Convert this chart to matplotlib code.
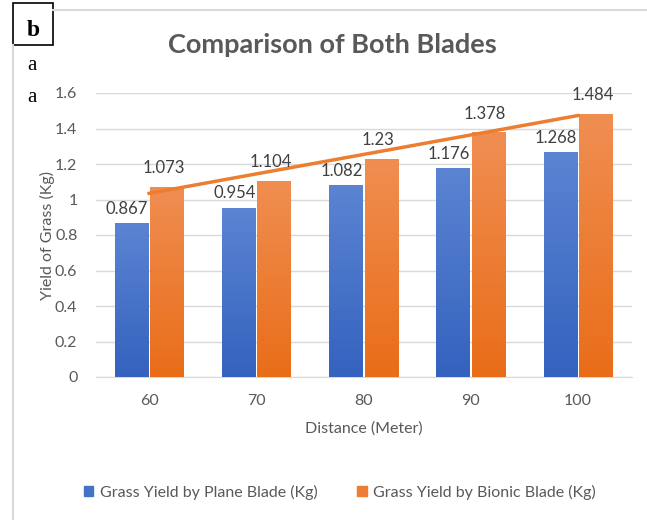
import matplotlib.pyplot as plt
import numpy as np
from matplotlib.lines import Line2D
from matplotlib.patches import Rectangle
from matplotlib.colors import LinearSegmentedColormap

distances = ["60", "70", "80", "90", "100"]
plane_yield = [0.867, 0.954, 1.082, 1.176, 1.268]
bionic_yield = [1.073, 1.104, 1.23, 1.378, 1.484]
y_ticks = [0, 0.2, 0.4, 0.6, 0.8, 1, 1.2, 1.4, 1.6]
y_tick_labels = ["0", "0.2", "0.4", "0.6", "0.8", "1", "1.2", "1.4", "1.6"]

blue = "#4472C4"
orange = "#ED7D31"
gray_txt = "#595959"

plt.rcParams['font.family'] = ['Lato', 'DejaVu Sans']

fig = plt.figure(figsize=(6.47, 5.2), dpi=100)
W, H = 647, 520
ax = fig.add_axes([95.5 / W, 1 - 377 / H, 536 / W, (377 - 93) / H])

x = np.arange(len(distances))
w = 0.31
b1 = ax.bar(x - w / 2 - 0.01, plane_yield, w, color=blue, zorder=3)
b2 = ax.bar(x + w / 2 + 0.01, bionic_yield, w, color=orange, zorder=3)

# gradient fill like the Excel chart
cm_blue = LinearSegmentedColormap.from_list("b", ["#3462BE", "#5B84D2"])
cm_orange = LinearSegmentedColormap.from_list("o", ["#E96D18", "#F08E52"])
grad = np.linspace(0, 1, 256).reshape(-1, 1)
for bars, cmap in [(b1, cm_blue), (b2, cm_orange)]:
    for rect in bars:
        x0, h = rect.get_x(), rect.get_height()
        im = ax.imshow(grad, cmap=cmap, origin="lower", aspect="auto",
                       extent=[x0, x0 + rect.get_width(), 0, h], zorder=3.1)
        im.set_clip_path(rect)

for rect, v in zip(b1, plane_yield):
    ax.text(rect.get_x() + rect.get_width() / 2 - 0.04, v + 0.035, f"{v:g}",
            ha="center", va="bottom", fontsize=12, color="#404040", zorder=5)
for rect, v in zip(b2, bionic_yield):
    ax.text(rect.get_x() + rect.get_width() / 2 - 0.03, v + 0.06, f"{v:g}",
            ha="center", va="bottom", fontsize=12, color="#404040", zorder=5)

# linear trendline of bionic series
k, c = np.polyfit(x, bionic_yield, 1)
ax.plot([x[0], x[-1]], [k * x[0] + c, k * x[-1] + c], color=orange, lw=2.5, zorder=4)

ax.set_xlim(-0.5, len(distances) - 0.5)
ax.set_ylim(0, 1.6)
ax.set_yticks(y_ticks)
ax.set_yticklabels(y_tick_labels)
ax.set_xticks(x)
ax.set_xticklabels(distances)
ax.grid(axis="y", color="#D9D9D9", lw=1, zorder=0)
ax.tick_params(length=0, colors=gray_txt, labelsize=11.5)
ax.tick_params(axis="y", pad=13)
ax.tick_params(axis="x", pad=12)
for s in ["top", "right", "left"]:
    ax.spines[s].set_visible(False)
ax.spines["bottom"].set_color("#D9D9D9")

ax.set_xlabel("Distance (Meter)", fontsize=11.5, color=gray_txt, labelpad=10)
ax.set_ylabel("Yield of Grass (Kg)", fontsize=11.5, color=gray_txt, labelpad=0)

fig.text(332 / W, 1 - 45 / H, "Comparison of Both Blades", fontsize=19.5, fontweight="bold",
         color=gray_txt, ha="center", va="center")

# outer frame
fig.add_artist(Line2D([53 / W, 1], [1 - 10 / H, 1 - 10 / H], color="#D9D9D9", lw=1.5))
fig.add_artist(Line2D([13 / W, 13 / W], [0, 1 - 45 / H], color="#D9D9D9", lw=1.5))
fig.add_artist(Rectangle((13 / W, 1 - 45 / H), 40 / W, 42 / H, fill=False, ec="black", lw=1.2))
fig.text(33 / W, 1 - 31 / H, "b", fontsize=17, fontweight="bold", family="Liberation Serif",
         ha="center", va="center")
fig.text(32 / W, 1 - 66 / H, "a", fontsize=15, family="Liberation Serif", ha="center", va="center")
fig.text(32 / W, 1 - 98 / H, "a", fontsize=15, family="Liberation Serif", ha="center", va="center")

handles = [Rectangle((0, 0), 1, 1, color=blue), Rectangle((0, 0), 1, 1, color=orange)]
fig.legend(handles, ["Grass Yield by Plane Blade (Kg)", "Grass Yield by Bionic Blade (Kg)"],
           loc="center", bbox_to_anchor=(340 / W, 1 - 492 / H), ncol=2, frameon=False,
           fontsize=11.5, handlelength=0.6, handleheight=0.6, handletextpad=0.4,
           columnspacing=2.5, labelcolor=gray_txt)

fig.savefig("out.png", dpi=100)
